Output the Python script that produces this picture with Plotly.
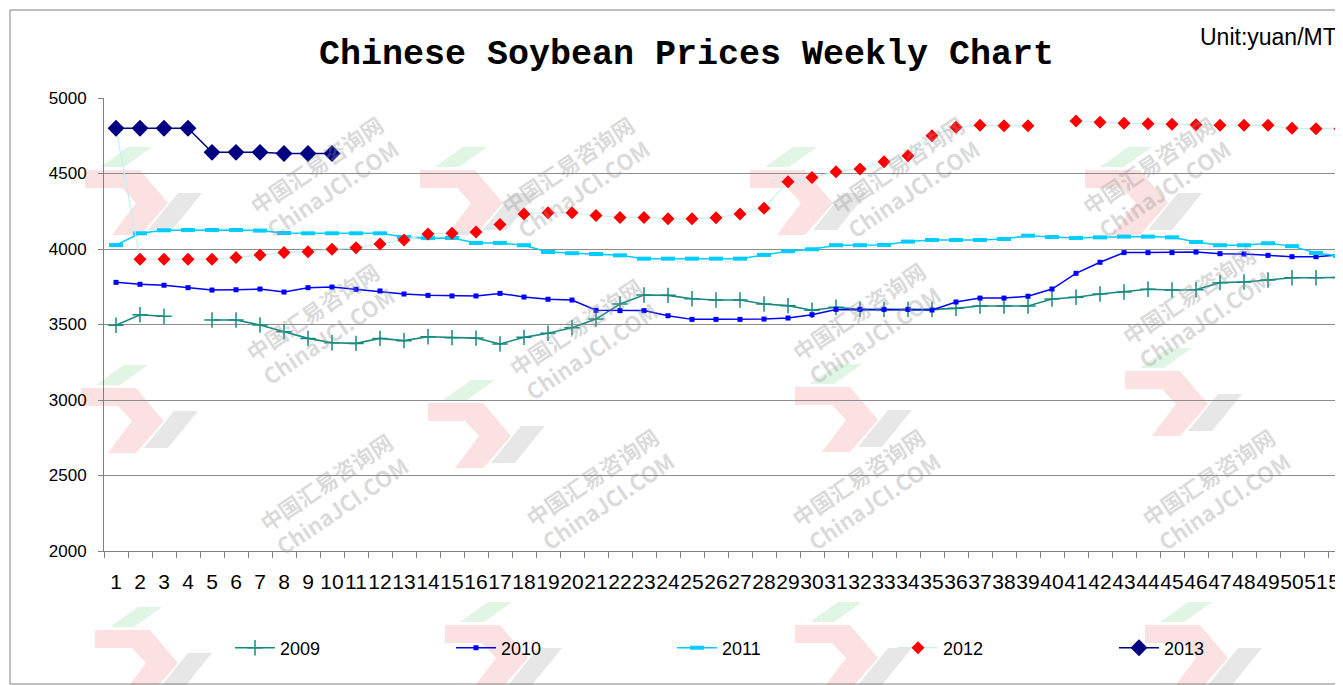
import plotly.graph_objects as go

weeks = [str(i) for i in range(1, 53)]

p2009 = [3495, 3565, 3555, None, 3530, 3530, 3497, 3452, 3408, 3379,
         3375, 3408, 3393, 3419, 3413, 3410, 3371, 3415, 3442, 3479,
         3536, 3636, 3695, 3693, 3671, 3662, 3662, 3636, 3625, 3594,
         3614, 3600, 3600, 3600, 3600, 3607, 3623, 3623, 3623, 3669,
         3680, 3702, 3715, 3733, 3728, 3730, 3777, 3781, 3795, 3810, 3810, 3812]
p2010 = [3779, 3766, 3760, 3744, 3728, 3730, 3735, 3715, 3744, 3748,
         3733, 3722, 3702, 3693, 3689, 3689, 3706, 3682, 3667, 3662,
         3594, 3592, 3592, 3558, 3534, 3534, 3534, 3536, 3543, 3565,
         3600, 3600, 3600, 3600, 3596, 3649, 3675, 3675, 3687, 3735,
         3839, 3912, 3976, 3976, 3976, 3980, 3969, 3967, 3958, 3949, 3949, 3962]
p2011 = [4026, 4104, 4124, 4126, 4126, 4126, 4122, 4106, 4104, 4104,
         4104, 4104, 4079, 4072, 4073, 4040, 4040, 4025, 3980, 3972,
         3967, 3958, 3936, 3936, 3936, 3936, 3936, 3961, 3985, 3998,
         4025, 4025, 4027, 4049, 4060, 4060, 4060, 4066, 4088, 4079,
         4073, 4077, 4082, 4082, 4077, 4046, 4025, 4025, 4038, 4019, 3974, 3953]
p2012 = [4800, 3932, 3932, 3932, 3932, 3943, 3960, 3976, 3982, 3998,
         4009, 4033, 4060, 4099, 4104, 4113, 4163, 4232, 4240, 4240,
         4222, 4209, 4209, 4200, 4200, 4207, 4232, 4270, 4446, 4473,
         4512, 4530, 4578, 4618, 4750, 4806, 4819, 4816, 4816, None,
         4848, 4840, 4832, 4830, 4826, 4823, 4819, 4819, 4819, 4799, 4797, 4797]
p2013 = [4800, 4800, 4800, 4800, 4640, 4640, 4640, 4632, 4632, 4632]

# page has an 8px body margin: figure is drawn from page (8, 8)
OFF = 8
W, H = 1343 - OFF, 685 - OFF
L, R, T, B = 104 - OFF, 0, 98 - OFF, 134


def px(x, y):
    """reference page pixel -> paper coords"""
    pw = W - L - R
    ph = H - T - B
    return (x - OFF - L) / pw, (H - B - (y - OFF)) / ph


fig = go.Figure()
fig.add_trace(go.Scatter(
    x=weeks, y=p2009, name="2009", mode="lines+markers",
    line=dict(color="#168a80", width=1.6),
    marker=dict(symbol="cross-thin", size=11, line=dict(color="#168a80", width=1.5)),
))
fig.add_trace(go.Scatter(
    x=weeks, y=p2010, name="2010", mode="lines+markers",
    line=dict(color="#0000ff", width=1.5),
    marker=dict(symbol="square", size=5, color="#0000ff"),
))
fig.add_trace(go.Scatter(
    x=weeks, y=p2011, name="2011", mode="lines+markers",
    line=dict(color="#00ccff", width=1.5),
    marker=dict(symbol="line-ew", size=10, line=dict(color="#00ccff", width=4)),
))
fig.add_trace(go.Scatter(
    x=weeks, y=p2012, name="2012", mode="lines+markers",
    line=dict(color="#c4f2f2", width=1.2),
    marker=dict(symbol="diamond", size=10, color="#ff0000"),
))
fig.add_trace(go.Scatter(
    x=weeks[:len(p2013)], y=p2013, name="2013", mode="lines+markers",
    line=dict(color="#000080", width=1.5),
    marker=dict(symbol="diamond", size=13, color="#000080"),
))

annotations = []
shapes = []

# watermark tiles (text + faint logo)
wm_centers = [(240, 105), (575, 105), (905, 105), (1240, 105),
              (236, 323), (583, 338), (950, 322), (1280, 306),
              (250, 565), (600, 560), (950, 560), (1300, 560)]


def poly(points):
    parts = []
    for i, (x, y) in enumerate(points):
        a, b = px(x, y)
        parts.append(("M" if i == 0 else "L") + f"{a:.4f},{b:.4f}")
    return " ".join(parts) + " Z"


for cx, cy in wm_centers:
    chev = [(-155, 65), (-100, 65), (-72, 98), (-100, 130), (-128, 130),
            (-104, 98), (-118, 83), (-155, 83)]
    shapes.append(dict(type="path", xref="paper", yref="paper", layer="below",
                       path=poly([(cx + dx, cy + dy) for dx, dy in chev]),
                       fillcolor="rgba(235,90,90,0.18)", line=dict(width=0)))
    green = [(-140, 62), (-112, 42), (-88, 42), (-116, 62)]
    shapes.append(dict(type="path", xref="paper", yref="paper", layer="below",
                       path=poly([(cx + dx, cy + dy) for dx, dy in green]),
                       fillcolor="rgba(90,200,110,0.18)", line=dict(width=0)))
    gray = [(-92, 125), (-62, 88), (-38, 88), (-68, 125)]
    shapes.append(dict(type="path", xref="paper", yref="paper", layer="below",
                       path=poly([(cx + dx, cy + dy) for dx, dy in gray]),
                       fillcolor="rgba(120,120,130,0.18)", line=dict(width=0)))
    ax, ay = px(cx, cy)
    annotations.append(dict(
        x=ax, y=ay, xref="paper", yref="paper", showarrow=False,
        text="<b>中国汇易咨询网</b><br><b>ChinaJCI.COM</b>", textangle=-34,
        font=dict(family="Noto Sans CJK SC", size=22, color="rgba(150,150,150,0.35)"),
    ))

ux, uy = px(1339, 37)
annotations.append(dict(
    x=ux, y=uy, xref="paper", yref="paper", showarrow=False,
    xanchor="right", yanchor="middle", text="Unit:yuan/MT",
    font=dict(family="Liberation Sans", size=23, color="#000000"),
))
tx, ty = px(686, 55)
annotations.append(dict(
    x=tx, y=ty, xref="paper", yref="paper", showarrow=False,
    xanchor="center", yanchor="middle", text="<b>Chinese Soybean Prices Weekly Chart</b>",
    font=dict(family="Liberation Mono", size=35, color="#000000"),
))

bx0, by0 = px(10, 684)
bx1, by1 = px(1350, 10)
shapes.append(dict(type="rect", xref="paper", yref="paper", x0=bx0, y0=by0, x1=bx1, y1=by1,
                   line=dict(color="#808080", width=1), layer="below"))

lx, ly = px(230, 648)
fig.update_layout(
    width=W, height=H,
    margin=dict(l=L, r=R, t=T, b=B, autoexpand=False),
    paper_bgcolor="white", plot_bgcolor="rgba(0,0,0,0)",
    showlegend=True,
    legend=dict(orientation="h", x=lx, y=ly, xanchor="left", yanchor="middle",
                entrywidth=166, entrywidthmode="pixels", itemwidth=40,
                font=dict(family="Liberation Sans", size=18, color="#000000"),
                bgcolor="rgba(0,0,0,0)"),
    annotations=annotations,
    shapes=shapes,
    xaxis=dict(type="category", range=[-0.5, 51.125], tickson="boundaries",
               tickmode="linear", dtick=1, tickangle=0,
               ticks="outside", ticklen=6, tickcolor="#808080",
               showline=True, linecolor="#808080", linewidth=1,
               showgrid=False, ticklabelstandoff=12,
               tickfont=dict(family="Liberation Sans", size=21, color="#000000")),
    yaxis=dict(range=[2000, 5000], dtick=500, tick0=2000,
               ticks="outside", ticklen=5, tickcolor="#808080",
               showline=True, linecolor="#808080", linewidth=1,
               showgrid=True, gridcolor="#8c8c8c", gridwidth=1,
               zeroline=False, ticklabelstandoff=8,
               tickfont=dict(family="Liberation Sans", size=17, color="#000000")),
)

fig.write_html("out.html")
